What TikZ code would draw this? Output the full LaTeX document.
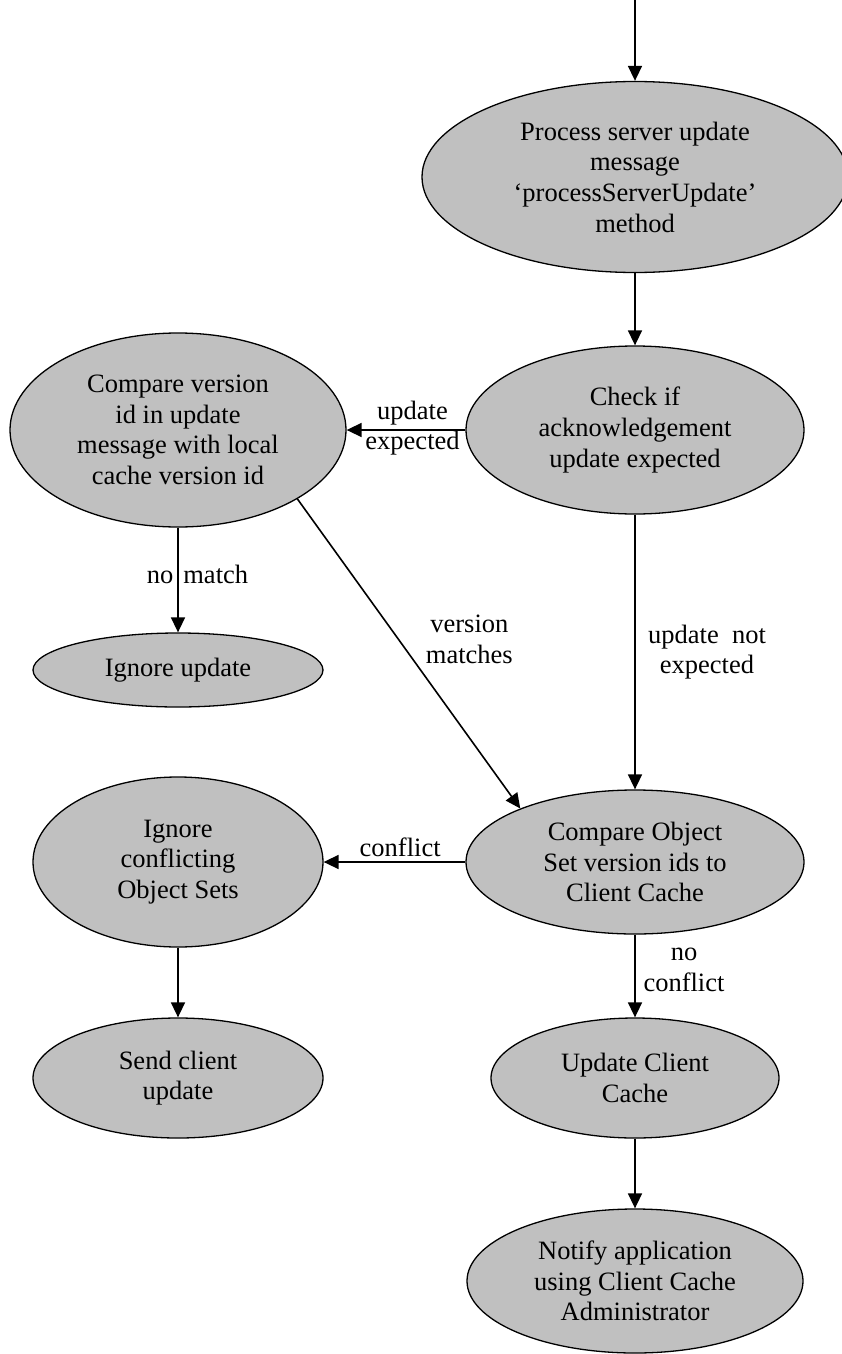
\documentclass[tikz,border=0pt]{standalone}
\usepackage{fontspec}
\setmainfont{Liberation Serif}
\usetikzlibrary{shapes.geometric,arrows.meta}
\definecolor{boxgray}{RGB}{192,192,192}
\begin{document}
\begin{tikzpicture}[x=1pt,y=-1pt,
  txt/.style={font=\fontsize{26.5}{30.7}\selectfont, align=center},
  state/.style={txt, shape=ellipse, draw=black, line width=1.3pt, fill=boxgray, inner sep=0pt},
  flow/.style={line width=1.6pt, -{Triangle[length=15pt,width=14pt]}},
  lbl/.style={txt, inner sep=0pt}]
\useasboundingbox (0,0) rectangle (841,1354);

% states
\node[state, minimum width=426pt, minimum height=191pt] (proc) at (635,177)
  {Process server update\\message\\‘processServerUpdate’\\method};
\node[state, minimum width=338pt, minimum height=168pt] (check) at (635,430)
  {Check if\\acknowledgement\\update expected};
\node[state, minimum width=336pt, minimum height=194pt] (cmpv) at (178,430)
  {Compare version\\id in update\\message with local\\cache version id};
\node[state, minimum width=290pt, minimum height=74pt] (ignu) at (178,670)
  {Ignore update};
\node[state, minimum width=290pt, minimum height=170pt] (ignc) at (178,862)
  {Ignore\\conflicting\\Object Sets};
\node[state, minimum width=338pt, minimum height=144pt] (cmpo) at (635,862)
  {Compare Object\\Set version ids to\\Client Cache};
\node[state, minimum width=290pt, minimum height=120pt] (send) at (178,1078)
  {Send client\\update};
\node[state, minimum width=288pt, minimum height=120pt] (updc) at (635,1078)
  {Update Client\\Cache};
\node[state, minimum width=336pt, minimum height=144pt] (notify) at (635,1281)
  {Notify application\\using Client Cache\\Administrator};

% transitions
\coordinate (entry) at (635,0);
\draw[flow] (entry) -- (proc);
\draw[flow] (proc) -- (check);
\draw[flow] (check) -- node[lbl, pos=0.445, yshift=2pt] {update\\expected} (cmpv);
\draw[flow] (cmpv) -- node[lbl, pos=0.45, xshift=19.5pt] {no\hspace{10pt}match} (ignu);
\draw[flow] (cmpv.-30) -- node[lbl, pos=0.453, xshift=71pt] {version\\matches} (cmpo.155);
\draw[flow] (check) -- node[lbl, pos=0.5, xshift=72pt] {update~~not\\expected} (cmpo);
\draw[flow] (cmpo) -- node[lbl, pos=0.46, yshift=15pt] {conflict} (ignc);
\draw[flow] (ignc) -- (send);
\draw[flow] (cmpo) -- node[lbl, pos=0.43, xshift=49pt] {no\\conflict} (updc);
\draw[flow] (updc) -- (notify);
\end{tikzpicture}
\end{document}
